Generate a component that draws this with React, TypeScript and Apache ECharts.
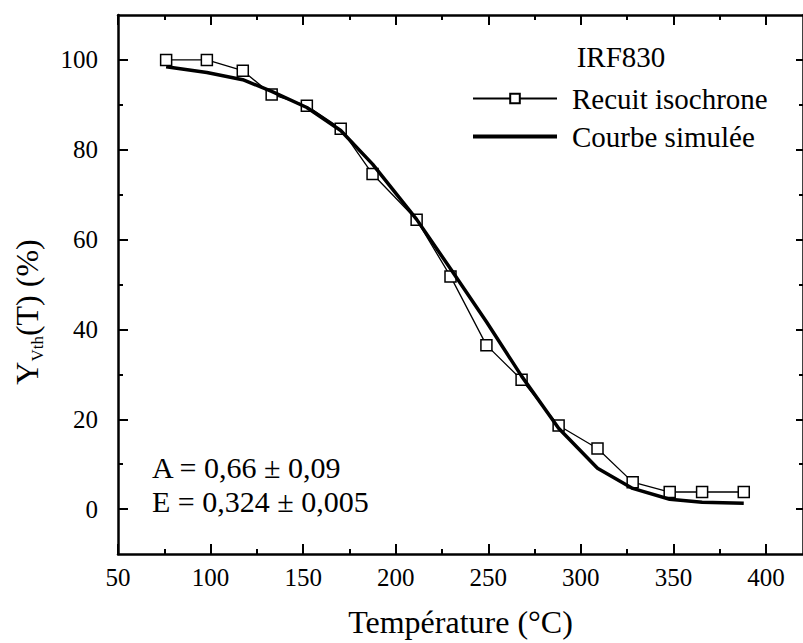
import React, { useEffect, useRef } from "react";
import * as echarts from "echarts";

const tempC = [76, 98, 117.4, 133, 152, 170.3, 187.5, 211.3, 229.6, 249, 268, 288, 309, 328, 348, 365.5, 388];
const recuit = [100, 100, 97.6, 92.3, 89.8, 84.7, 74.6, 64.4, 51.8, 36.5, 28.8, 18.6, 13.5, 6.0, 3.8, 3.8, 3.8];
const simulee = [98.5, 97.2, 95.6, 93.0, 89.4, 84.3, 76.8, 64.5, 53.5, 41.7, 29.6, 18.0, 9.1, 4.6, 2.2, 1.5, 1.3];

const xMajor = [50, 100, 150, 200, 250, 300, 350, 400];
const xMinor = [75, 125, 175, 225, 275, 325, 375];
const yMajor = [0, 20, 40, 60, 80, 100];
const yMinor = [10, 30, 50, 70, 90];

const FONT = "'Liberation Serif', 'Times New Roman', serif";

export default function App() {
  const ref = useRef<HTMLDivElement>(null);
  useEffect(() => {
    if (!ref.current) return;
    const chart = echarts.init(ref.current, null, { renderer: "svg" });
    const lineStyle = { color: "#000", width: 2.5 };
    const mkX = (pos: string, vals: number[], len: number, labels: boolean, line: boolean, name?: string) => ({
      type: "value",
      position: pos,
      min: 50,
      max: 420,
      axisLine: { show: line, onZero: false, lineStyle },
      axisTick: { show: true, inside: true, length: len, customValues: vals, lineStyle: { color: "#000", width: 2 } },
      axisLabel: labels
        ? { show: true, customValues: xMajor, color: "#000", fontFamily: FONT, fontSize: 25, margin: 11 }
        : { show: false },
      splitLine: { show: false },
      name: name || "",
      nameLocation: "middle",
      nameGap: 52,
      nameTextStyle: { color: "#000", fontFamily: FONT, fontSize: 32 },
    });
    const mkY = (pos: string, vals: number[], len: number, labels: boolean, line: boolean) => ({
      type: "value",
      position: pos,
      min: -10,
      max: 110,
      axisLine: { show: line, onZero: false, lineStyle },
      axisTick: { show: true, inside: true, length: len, customValues: vals, lineStyle: { color: "#000", width: 2 } },
      axisLabel: labels
        ? { show: true, customValues: yMajor, color: "#000", fontFamily: FONT, fontSize: 25, margin: 20 }
        : { show: false },
      splitLine: { show: false },
    });
    chart.setOption({
      animation: false,
      backgroundColor: "#fff",
      grid: { left: 118, right: -3, top: 15, bottom: 86, containLabel: false },
      xAxis: [
        mkX("bottom", xMajor, 10, true, true, "Température (°C)"),
        mkX("bottom", xMinor, 5, false, false),
        mkX("top", xMajor, 10, false, true),
        mkX("top", xMinor, 5, false, false),
      ],
      yAxis: [
        mkY("left", yMajor, 10, true, true),
        mkY("left", yMinor, 5, false, false),
        mkY("right", yMajor, 7, false, true),
        mkY("right", yMinor, 4, false, false),
      ],
      legend: {
        orient: "vertical",
        left: 466,
        top: 79,
        itemWidth: 84,
        itemHeight: 12,
        itemGap: 9,
        textStyle: { color: "#000", fontFamily: FONT, fontSize: 29, padding: [0, 0, 0, 10] },
        data: [
          { name: "Recuit isochrone" },
          { name: "Courbe simulée", itemStyle: { opacity: 0 }, lineStyle: { width: 4, color: "#000" } },
        ],
      },
      graphic: [
        {
          type: "text",
          x: 621,
          y: 57,
          style: { text: "IRF830", fill: "#000", fontFamily: FONT, fontSize: 29, textAlign: "center", textVerticalAlign: "middle" },
        },
        {
          type: "text",
          x: 152,
          y: 467,
          style: { text: "A = 0,66 ± 0,09", fill: "#000", fontFamily: FONT, fontSize: 30, textAlign: "left", textVerticalAlign: "middle" },
        },
        {
          type: "text",
          x: 152,
          y: 501,
          style: { text: "E = 0,324 ± 0,005", fill: "#000", fontFamily: FONT, fontSize: 30, textAlign: "left", textVerticalAlign: "middle" },
        },
        {
          type: "text",
          x: 27,
          y: 312,
          rotation: Math.PI / 2,
          style: {
            text: "{a|Y}{b|Vth}{a|(T) (%)}",
            fill: "#000",
            textAlign: "center",
            textVerticalAlign: "middle",
            rich: {
              a: { fontFamily: FONT, fontSize: 32, color: "#000" },
              b: { fontFamily: FONT, fontSize: 17, color: "#000", padding: [20, 0, 0, 0] },
            },
          },
        },
      ],
      series: [
        {
          name: "Recuit isochrone",
          type: "line",
          xAxisIndex: 0,
          yAxisIndex: 0,
          data: tempC.map((t, i) => [t, recuit[i]]),
          symbol: "rect",
          symbolSize: 11,
          showAllSymbol: true,
          lineStyle: { color: "#000", width: 1.3 },
          itemStyle: { color: "#fff", borderColor: "#000", borderWidth: 1.5 },
          z: 2,
        },
        {
          name: "Courbe simulée",
          type: "line",
          xAxisIndex: 0,
          yAxisIndex: 0,
          data: tempC.map((t, i) => [t, simulee[i]]),
          showSymbol: false,
          symbol: "none",
          lineStyle: { color: "#000", width: 3.5 },
          itemStyle: { color: "#000" },
          z: 3,
        },
      ],
    });
    return () => chart.dispose();
  }, []);
  return (
    <div
      ref={ref}
      style={{ position: "absolute", left: 0, top: 0, width: 803, height: 643, background: "#fff" }}
    />
  );
}
